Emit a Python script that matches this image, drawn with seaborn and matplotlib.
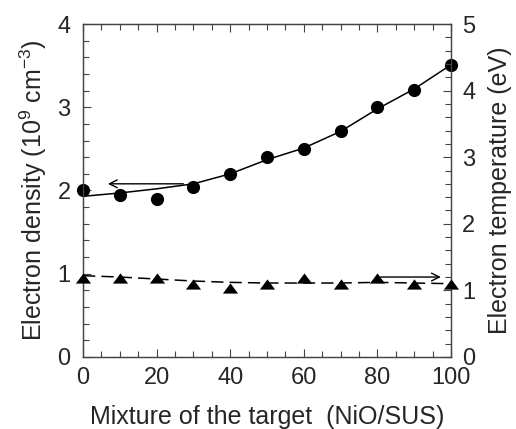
import numpy as np
import pandas as pd
import matplotlib
matplotlib.use("Agg")
import matplotlib.pyplot as plt
import seaborn as sns
from matplotlib.ticker import MultipleLocator

mixture = [0, 10, 20, 30, 40, 50, 60, 70, 80, 90, 100]
density = [2.0, 1.95, 1.895, 2.04, 2.2, 2.4, 2.5, 2.71, 3.0, 3.21, 3.51]
density_fit = [1.93, 1.97, 2.02, 2.08, 2.2, 2.37, 2.51, 2.71, 2.98, 3.22, 3.51]
temperature = [1.19, 1.18, 1.18, 1.10, 1.04, 1.09, 1.19, 1.09, 1.18, 1.09, 1.09]
temperature_fit = [1.22, 1.20, 1.17, 1.14, 1.12, 1.11, 1.11, 1.11, 1.12, 1.11, 1.10]

xlabel = "Mixture of the target  (NiO/SUS)"
ylabel_left = "Electron density (10$^{9}$ cm$^{-3}$)"
ylabel_right = "Electron temperature (eV)"

sns.set_style("ticks")
plt.rcParams['font.family'] = ['Liberation Sans', 'DejaVu Sans']
plt.rcParams['mathtext.fontset'] = 'custom'
plt.rcParams['mathtext.rm'] = 'Liberation Sans'
plt.rcParams['mathtext.it'] = 'Liberation Sans'

df = pd.DataFrame({"x": mixture, "n": density, "nfit": density_fit,
                   "T": temperature, "Tfit": temperature_fit})

fig = plt.figure(figsize=(5.16, 4.29), dpi=100)
ax = fig.add_axes([0.161, 0.168, 0.713, 0.776])
ax2 = ax.twinx()

spine_c = "#444444"
tri = [(-1, -0.67), (1, -0.67), (0, 0.67)]

sns.lineplot(data=df, x="x", y="nfit", ax=ax, color="black", lw=1.1)
sns.scatterplot(data=df, x="x", y="n", ax=ax, color="black", s=90,
                marker="o", linewidth=0, zorder=5, clip_on=False)

sns.lineplot(data=df, x="x", y="Tfit", ax=ax2, color="black", lw=1.1)
ax2.lines[-1].set_dashes([8, 4])
sns.scatterplot(data=df, x="x", y="T", ax=ax2, color="black", s=120,
                marker=tri, linewidth=0, zorder=5, clip_on=False)

ax.annotate("", xy=(6, 2.08), xytext=(28, 2.08),
            arrowprops=dict(arrowstyle="->", color="black", lw=1.0,
                            mutation_scale=14))
ax2.annotate("", xy=(98, 1.20), xytext=(80, 1.20),
             arrowprops=dict(arrowstyle="->", color="black", lw=1.0,
                             mutation_scale=14))

ax.set_xlim(0, 100)
ax.set_ylim(0, 4)
ax2.set_ylim(0, 5)

ax.xaxis.set_major_locator(MultipleLocator(20))
ax.xaxis.set_minor_locator(MultipleLocator(5))
ax.yaxis.set_major_locator(MultipleLocator(1))
ax.yaxis.set_minor_locator(MultipleLocator(0.2))
ax2.yaxis.set_major_locator(MultipleLocator(1))
ax2.yaxis.set_minor_locator(MultipleLocator(0.2))

for a in (ax, ax2):
    for s in a.spines.values():
        s.set_color(spine_c)
        s.set_linewidth(0.9)
        s.set_visible(True)
    a.tick_params(which="both", direction="in", color=spine_c, width=0.8,
                  labelsize=17)
    a.tick_params(which="major", length=6)
    a.tick_params(which="minor", length=4)

ax.tick_params(axis="x", which="both", top=True, pad=7.5)
ax.tick_params(axis="y", which="both", right=False, pad=9)
ax2.tick_params(axis="y", which="both", pad=8)

ax.set_xlabel(xlabel, fontsize=18, labelpad=11)
ax.set_ylabel(ylabel_left, fontsize=18, labelpad=6)
ax2.set_ylabel(ylabel_right, fontsize=18, labelpad=9)

fig.savefig("out.png", dpi=100)
